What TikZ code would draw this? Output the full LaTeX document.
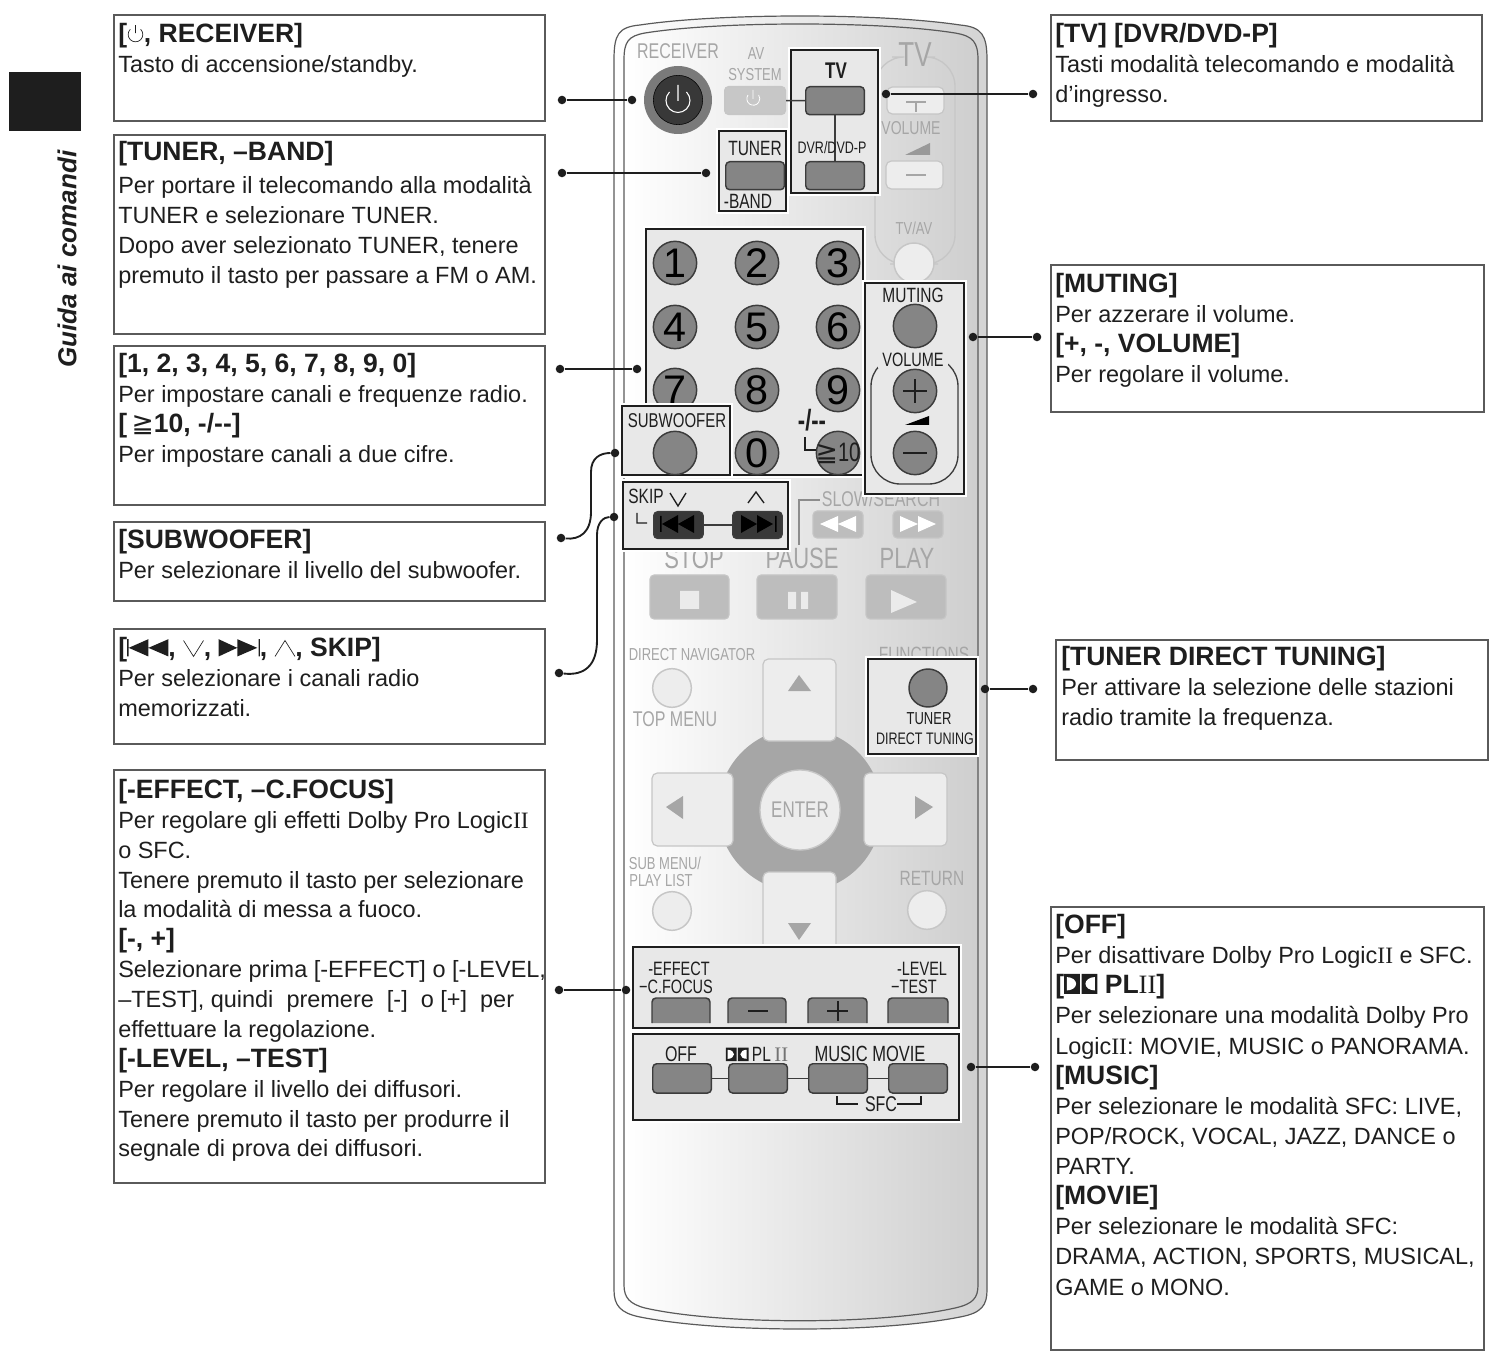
\documentclass[tikz,border=0pt]{standalone}
\usepackage{fontspec}
\setmainfont{Liberation Sans}
\newfontfamily\condfont[FakeStretch=0.75]{Liberation Sans}
\newfontfamily\symfont{DejaVu Sans}
\newfontfamily\romfont{Liberation Serif}
\usetikzlibrary{positioning}
\definecolor{inkdark}{HTML}{1E1E1E}
\definecolor{boxline}{HTML}{5A5A5A}
\definecolor{keygrey}{HTML}{858585}
\definecolor{keyline}{HTML}{3C3C3C}
\definecolor{paleink}{HTML}{A6A6A6}
\definecolor{palekey}{HTML}{BDBDBD}
\definecolor{softkey}{HTML}{EDEDED}
\definecolor{softline}{HTML}{C6C6C6}
\definecolor{hifill}{HTML}{E8E8E8}
\newcommand{\hd}[1]{{\fontsize{19.9}{22.6}\selectfont\bfseries #1}}
\newcommand{\pwrsym}{\tikz[x=1pt,y=1pt,baseline=0pt,line width=.5pt]{\draw (3.9,9.9) arc (45:-225:5.5) (0,7) -- (0,13);}}
\newcommand{\dbsym}[1][1]{\tikz[x=#1pt,y=#1pt,baseline=0pt]{\fill (0,0) rectangle (9.5,12) (10.5,0) rectangle (20,12);
    \fill[white] (1.6,2) -- (1.6,10) arc (90:-90:5.6 and 4) -- cycle (18.4,2) -- (18.4,10) arc (90:270:5.6 and 4) -- cycle;}}
\newcommand{\prevsym}{\tikz[x=1pt,y=1pt,baseline=0pt]{\fill (0,0) rectangle (1.2,13) (1.2,6.5) -- (16,13) -- (16,0) -- cycle (16,6.5) -- (31,13) -- (31,0) -- cycle;}}
\newcommand{\nextsym}{\tikz[x=1pt,y=1pt,baseline=0pt]{\fill (0,0) -- (14,6.5) -- (0,13) -- cycle (14,0) -- (29,6.5) -- (14,13) -- cycle (30,0) rectangle (31,13);}}
\newcommand{\vsym}{\tikz[x=1pt,y=1pt,baseline=0pt,line width=.5pt]{\draw (0,12) -- (7.5,0) -- (15,12);}}
\newcommand{\asym}{\tikz[x=1pt,y=1pt,baseline=0pt,line width=.5pt]{\draw (0,0) -- (7.5,12) -- (15,0);}}
\tikzset{
  txtbox/.style={anchor=north west,inner sep=0pt,align=left,text=inkdark,
    font=\fontsize{17.6}{22.6}\selectfont,execute at begin node=\strut},
  framebox/.style={draw=boxline,line width=0.9pt},
  hibox/.style={draw=inkdark,line width=2.2pt,fill=hifill,preaction={draw=white,line width=3.9pt}},
  bullet/.style={circle,fill=inkdark,inner sep=0pt,minimum size=6.4pt},
  leader/.style={draw=inkdark,line width=1.4pt},
  klabel/.style={text=inkdark,inner sep=0pt,font=\condfont\fontsize{#1}{#1}\selectfont},
  glabel/.style={text=paleink,inner sep=0pt,font=\condfont\fontsize{#1}{#1}\selectfont},
  numkey/.style={circle,draw=keyline,line width=1.1pt,fill=keygrey,inner sep=0pt,minimum size=32.5pt,
    text=black,font=\fontsize{31}{31}\selectfont},
  softkeyc/.style={circle,draw=softline,line width=1.1pt,fill=softkey,inner sep=0pt,minimum size=29pt},
  modekey/.style={draw=keyline,line width=1.1pt,fill=keygrey,rounded corners=3pt},
  palebtn/.style={draw=softline,line width=0.8pt,fill=palekey,rounded corners=3pt},
  softbtn/.style={draw=softline,line width=0.9pt,fill=softkey,rounded corners=4pt},
}

\begin{document}
\begin{tikzpicture}[x=0.75pt,y=0.75pt,yscale=-1,xscale=1]
\useasboundingbox (0,0) rectangle (1493,1351);

%Shape: Side tab
\fill [inkdark] (9,72) rectangle (81,131);
% Text Node
\draw (67,259) node [rotate=90,inner sep=0pt,text=inkdark,font=\fontsize{19.5}{20}\selectfont\bfseries\itshape] (sidetitle) {Guida ai comandi};

%Shape: Remote body
\draw [draw=boxline,line width=0.9pt,left color=white,right color=black!17]
  (614,60) .. controls (614,35) and (618,27) .. (640,25) .. controls (720,13) and (880,13) .. (960,25)
  .. controls (982,27) and (987,35) .. (987,60) -- (987,1290) .. controls (987,1305) and (982,1313) .. (960,1317)
  .. controls (880,1333) and (720,1333) .. (640,1317) .. controls (620,1313) and (614,1305) .. (614,1290) -- cycle;
\draw [draw=boxline,line width=0.9pt,left color=white,right color=black!19]
  (624,60) .. controls (624,42) and (628,36) .. (645,33) .. controls (720,21) and (880,21) .. (955,33)
  .. controls (973,36) and (978,42) .. (978,60) -- (978,1285) .. controls (978,1298) and (973,1304) .. (955,1308)
  .. controls (880,1325) and (720,1325) .. (645,1308) .. controls (630,1304) and (624,1298) .. (624,1285) -- cycle;

%Shape: Volume frame of the TV group
\draw [draw=softline,line width=1pt,rounded corners=22pt] (890,264) -- (875,264) -- (875,57) -- (892,57);
\draw [draw=softline,line width=1pt,rounded corners=22pt] (935,57) -- (955,57) -- (955,264) -- (938,264);

% Text Node
\foreach \x/\y/\sz/\n/\t in {678/51/16/receiver/RECEIVER, 756/54/13/av/AV, 755/75/13/system/SYSTEM, 915/55/26/tvgroup/TV,
    911/128/14/volgrey/VOLUME, 914/228/13/tvav/TV\slash AV, 881/499/16/slowsearch/SLOW\slash SEARCH,
    694/558/22/stop/STOP, 802/558/22/pause/PAUSE, 907/558/22/play/PLAY, 692/655/13/directnav/DIRECT NAVIGATOR,
    675/719/16/topmenu/TOP MENU, 924/654/15.5/functions/FUNCTIONS, 665/863/13/submenu/SUB MENU\slash,
    661/881/13/playlist/PLAY LIST, 932/878/15.5/return/RETURN}
  \draw (\x,\y) node [glabel=\sz] (lbl\n) {\t};

%Shape: Power key
\draw (678,100) node [circle,fill=black!52,inner sep=0pt,minimum size=51pt] (keypowerouter) {};
\draw (678,100) node [circle,draw=black,fill=black!78,inner sep=0pt,minimum size=37pt] (keypower) {};
\draw [white,line width=0.8pt] (669.5,92) arc (225:-45:12) (678,85) -- (678,101);

%Shape: AV system key
\draw (724,86) node [anchor=north west,inner sep=0pt,minimum width=45.75pt,minimum height=21pt,palebtn,fill=black!22] (keyav) {};
\draw [white,line width=0.6pt] (748,95) arc (215:-35:6.5) (753,90) -- (753,99);

%Shape: Volume keys on the TV group
\draw [softbtn] (887,87) rectangle (944,114);
\draw [softbtn] (886,161) rectangle (943,189);
\draw [line width=1pt,black!35] (906,102) -- (926,102) (916,102) -- (916,112) (906,175) -- (926,175);
\fill [black!40] (905,155) -- (930,143) -- (930,155) -- cycle;

% Text Node
\draw (914,263) node [softkeyc,minimum size=30pt] (keytvav) {};

%Shape: Highlight boxes
\draw [hibox] (791,50) rectangle (878,193);
\draw [hibox] (719,131) rectangle (786,211);
\draw [hibox] (646,229) rectangle (863,475);
\draw [hibox] (865,283) rectangle (964,494);
\draw [hibox] (623,482) rectangle (788,549);
\draw [hibox] (868,659) rectangle (976,754);
\draw [hibox] (633,1034) rectangle (959,1120);

%Shape: Key with a name
\foreach \x/\y/\n in {805/86/tv, 805/161/dvr, 725/161/tuner}
  \draw (\x,\y) node [anchor=north west,inner sep=0pt,minimum width=44pt,minimum height=21pt,modekey] (key\n) {};

%Straight Lines
\draw [line width=1.1pt,keyline] (keyav.east) -- (keytv.west);
\draw [line width=1.1pt,keyline] (keytv.south) -- (keydvr.north);

% Text Node
\foreach \x/\y/\sz/\n/\t in {836/71/17/tv/\textbf{TV}, 832/148/12.5/dvr/DVR\slash DVD-P, 755/148/15.5/tuner/TUNER, 748/201/15.5/band/-BAND,
    913/295/15.5/muting/MUTING, 646/496/15.5/skip/SKIP, 929/719/13/tunerd/TUNER, 925/739/12.5/direct/DIRECT TUNING,
    681/1054/16/off/OFF, 870/1054/16.5/music/MUSIC MOVIE, 881/1104/16/sfc/SFC}
  \draw (\x,\y) node [klabel=\sz] (lab\n) {\t};
\draw (757,1054) node [klabel=15.5] (labpl) {\dbsym[0.85]\,PL\,\textcolor{black!55}{\romfont II}};

%Shape: Number keys
\foreach \x/\y/\n in {675/263/1, 757/263/2, 838/263/3, 675/327/4, 757/327/5, 838/327/6, 675/390/7, 757/390/8, 838/390/9, 757/453/0}
  \draw (\x,\y) node [numkey] (num\n) {\n};
\draw (838,453) node [numkey] (numten) {};
\draw (838,453) node [klabel=20] (lblten) {{\symfont ≧}10};
\draw (812,420) node [klabel=22] (lbldash) {\textbf{-/-{}-}};
\draw [line width=0.9pt,inkdark] (805,437) -- (805,450) -- (816,450);

%Shape: Subwoofer box on top of the 7 key
\draw [hibox] (622,406) rectangle (730,475);
\draw (677,421) node [klabel=15] (labsub) {SUBWOOFER};
\draw (675,453) node [numkey] (keysub) {};

%Shape: Muting and volume keys
\draw (915,326) node [numkey] (keymute) {};
\draw [draw=keyline,line width=1pt,rounded corners=22pt] (871,484) rectangle (958,357);
\fill [hifill] (878,350) rectangle (948,368);
\draw (913,360) node [klabel=14.5] (labvolume) {VOLUME};
\draw (915,391) node [numkey,font=\fontsize{28}{28}\selectfont] (keyplus) {};
\draw (915,453) node [numkey] (keyminus) {};
\draw [line width=0.9pt,inkdark] (903,391) -- (927,391) (915,379) -- (915,403) (903,453) -- (927,453);
\fill [black] (905,425) -- (929,416) -- (929,425) -- cycle;

%Shape: Skip keys
\draw (653,511) node [anchor=north west,inner sep=0pt,minimum width=37pt,minimum height=20pt,modekey,fill=black!78] (keyprev) {};
\draw (732,511) node [anchor=north west,inner sep=0pt,minimum width=37pt,minimum height=20pt,modekey,fill=black!78] (keynext) {};
\draw [line width=1.1pt,keyline] (keyprev.east) -- (keynext.west);
\fill [black] (662,524) -- (678,515) -- (678,533) -- cycle (678,524) -- (694,515) -- (694,533) -- cycle (660,516) rectangle (661.5,532)
  (773,524) -- (757,515) -- (757,533) -- cycle (757,524) -- (741,515) -- (741,533) -- cycle (775,516) rectangle (776.5,532);
\draw [line width=1pt,inkdark] (670,493) -- (678,506) -- (686,493) (748,503) -- (756,492) -- (764,503) (637,513) -- (637,523) -- (647,523);

%Shape: Slow search keys
\draw [line width=0.9pt,black!45] (799,545) -- (799,500) -- (820,500);
\draw [palebtn] (813,511) rectangle (863,538);
\draw [palebtn] (893,511) rectangle (943,538);
\fill [white] (820,524) -- (838,516) -- (838,532) -- cycle (838,524) -- (856,516) -- (856,532) -- cycle
  (918,524) -- (900,516) -- (900,532) -- cycle (936,524) -- (918,516) -- (918,532) -- cycle;

%Shape: Stop pause play
\draw [palebtn] (650,575) rectangle (729,619);
\draw [palebtn] (757,575) rectangle (837,619);
\draw [palebtn] (866,575) rectangle (946,619);
\fill [white!92!black] (680,591) rectangle (699,609) (788,592) rectangle (796,609) (801,592) rectangle (808,609)
  (891,590) -- (917,602) -- (891,613) -- cycle;

%Shape: Navigation pad
\fill [black!35] (800,810) circle (82);
\draw [softbtn] (763,659) rectangle (836,741);
\draw [softbtn] (652,773) rectangle (733,846);
\draw [softbtn] (864,773) rectangle (947,846);
\draw [softbtn] (763,872) rectangle (836,955);
\draw (800,810) node [circle,draw=softline,line width=1pt,fill=softkey,inner sep=0pt,minimum size=60pt,glabel=17] (keyenter) {ENTER};
\fill [black!35] (799,675) -- (811,691) -- (788,691) -- cycle (666,807) -- (683,796) -- (683,819) -- cycle
  (933,807) -- (915,796) -- (915,819) -- cycle (799,940) -- (788,923) -- (811,923) -- cycle;
\draw [hibox] (633,947) rectangle (959,1028);
\foreach \x/\y/\n/\t in {679/969/effect/-EFFECT, 676/987/cfocus/\textminus C.FOCUS, 922/969/level/-LEVEL, 914/987/test/\textminus TEST}
  \draw (\x,\y) node [klabel=14.5] (lab\n) {\t};

%Shape: Round keys
\draw (672,688) node [softkeyc] (keytop) {};
\draw (672,911) node [softkeyc] (keysubmenu) {};
\draw (927,910) node [softkeyc] (keyreturn) {};
\draw (928,688) node [numkey,minimum size=28.5pt] (keydirect) {};

%Shape: Effect keys cut by the box
\foreach \x/\w in {652/58, 728/58, 808/59, 888/60}
  \draw [keyline,line width=1.1pt,fill=keygrey,rounded corners=3pt] (\x,1023) -- (\x,998) -- (\x+\w,998) -- (\x+\w,1023);
\draw [line width=1pt,inkdark] (748,1011) -- (768,1011) (827,1011) -- (848,1011) (838,1001) -- (838,1021);

%Shape: Mode keys
\foreach \x/\n in {652/off, 728/pl, 808/mus, 888/mov}
  \draw (\x,1063) node [anchor=north west,inner sep=0pt,minimum width=44pt,minimum height=22pt,modekey] (key\n) {};
\draw [line width=1.1pt,keyline] (keyoff.east) -- (keypl.west) (keypl.east) -- (keymus.west) (keymus.east) -- (keymov.west);
\draw [line width=0.8pt,inkdark] (837,1096) -- (837,1104) -- (858,1104) (897,1104) -- (921,1104) -- (921,1096);

%Shape: Text boxes
\draw [framebox] (114,15) rectangle (545,121);
\draw [framebox] (114,135) rectangle (545,334);
\draw [framebox] (114,346) rectangle (545,505);
\draw [framebox] (114,522) rectangle (545,601);
\draw [framebox] (114,629) rectangle (545,744);
\draw [framebox] (114,770) rectangle (545,1183);
\draw [framebox] (1051,15) rectangle (1482,121);
\draw [framebox] (1051,265) rectangle (1484,412);
\draw [framebox] (1056,640) rectangle (1488,760);
\draw [framebox] (1051,907) rectangle (1484,1350);

% Text Node
\draw (118,23) node [txtbox] (txtreceiver) {\hd{[\pwrsym, RECEIVER]}\\Tasto di accensione/standby.};
% Text Node
\draw (118,141) node [txtbox] (txttuner) {\hd{[TUNER, –BAND]}\\[2.2pt]Per portare il telecomando alla modalità\\TUNER e selezionare TUNER.\\Dopo aver selezionato TUNER, tenere\\premuto il tasto per passare a FM o AM.};
% Text Node
\draw (118,353) node [txtbox] (txtnumbers) {\hd{[1, 2, 3, 4, 5, 6, 7, 8, 9, 0]}\\Per impostare canali e frequenze radio.\\\hd{[{\symfont\mdseries\,≧}10, -/-{}-]}\\Per impostare canali a due cifre.};
% Text Node
\draw (118,529) node [txtbox] (txtsub) {\hd{[SUBWOOFER]}\\Per selezionare il livello del subwoofer.};
% Text Node
\draw (118,637) node [txtbox] (txtskip) {\hd{[\prevsym, \vsym, \nextsym, \asym, SKIP]}\\Per selezionare i canali radio\\memorizzati.};
% Text Node
\draw (118,779) node [txtbox,font=\fontsize{17.6}{22.4}\selectfont] (txteffect) {\hd{[-EFFECT, –C.FOCUS]}\\Per regolare gli effetti Dolby Pro Logic{\romfont II}\\o SFC.\\Tenere premuto il tasto per selezionare\\la modalità di messa a fuoco.\\\hd{[-, +]}\\Selezionare prima [-EFFECT] o [-LEVEL,\\–TEST], quindi\ \ premere\ \ [-]\ \ o [+]\ \ per\\effettuare la regolazione.\\\hd{[-LEVEL, –TEST]}\\Per regolare il livello dei diffusori.\\Tenere premuto il tasto per produrre il\\segnale di prova dei diffusori.};
% Text Node
\draw (1055,23) node [txtbox] (txttv) {\hd{[TV] [DVR/DVD-P]}\\Tasti modalità telecomando e modalità\\d’ingresso.};
% Text Node
\draw (1055,273) node [txtbox] (txtmuting) {\hd{[MUTING]}\\Per azzerare il volume.\\\hd{[+, -, VOLUME]}\\Per regolare il volume.};
% Text Node
\draw (1061,646) node [txtbox] (txtdirect) {\hd{[TUNER DIRECT TUNING]}\\Per attivare la selezione delle stazioni\\radio tramite la frequenza.};
% Text Node
\draw (1055,914) node [txtbox] (txtoff) {\hd{[OFF]}\\Per disattivare Dolby Pro Logic{\romfont II} e SFC.\\\hd{[\dbsym[1.25]\ PL{\romfont\mdseries II}]}\\Per selezionare una modalità Dolby Pro\\Logic{\romfont II}: MOVIE, MUSIC o PANORAMA.\\\hd{[MUSIC]}\\Per selezionare le modalità SFC: LIVE,\\POP/ROCK, VOCAL, JAZZ, DANCE o\\PARTY.\\\hd{[MOVIE]}\\Per selezionare le modalità SFC:\\DRAMA, ACTION, SPORTS, MUSICAL,\\GAME o MONO.};

%Shape: Leader dots
\foreach \x/\y/\n in {562/100/rcva, 632/100/rcvb, 562/173/tuna, 706/173/tunb, 560/369/numa, 637/369/numb, 561/538/suba, 615/453/subb,
    559/673/skipa, 614/517/skipb, 559/990/effa, 626/990/effb, 886/94/tva, 1033/94/tvb, 973/337/muta, 1037/337/mutb,
    985/689/dira, 1033/689/dirb, 971/1067/offa, 1035/1067/offb}
  \draw (\x,\y) node [bullet] (dot\n) {};

%Straight Lines
\draw [leader] (dotrcva) -- (dotrcvb);
\draw [leader] (dottuna) -- (dottunb);
\draw [leader] (dotnuma) -- (dotnumb);
\draw [leader] (doteffa) -- (doteffb);
\draw [leader] (dottva) -- (dottvb);
\draw [leader] (dotmuta) -- (dotmutb);
\draw [leader] (dotdira) -- (dotdirb);
\draw [leader] (dotoffa) -- (dotoffb);
%Curve Lines
\draw [leader] (dotsuba) .. controls (580,540) and (591,532) .. (591,512) -- (591,472) .. controls (591,458) and (600,453) .. (dotsubb);
\draw [leader] (dotskipa) .. controls (585,676) and (597,665) .. (597,640) -- (597,535) .. controls (597,522) and (604,517) .. (dotskipb);

\end{tikzpicture}
\end{document}
